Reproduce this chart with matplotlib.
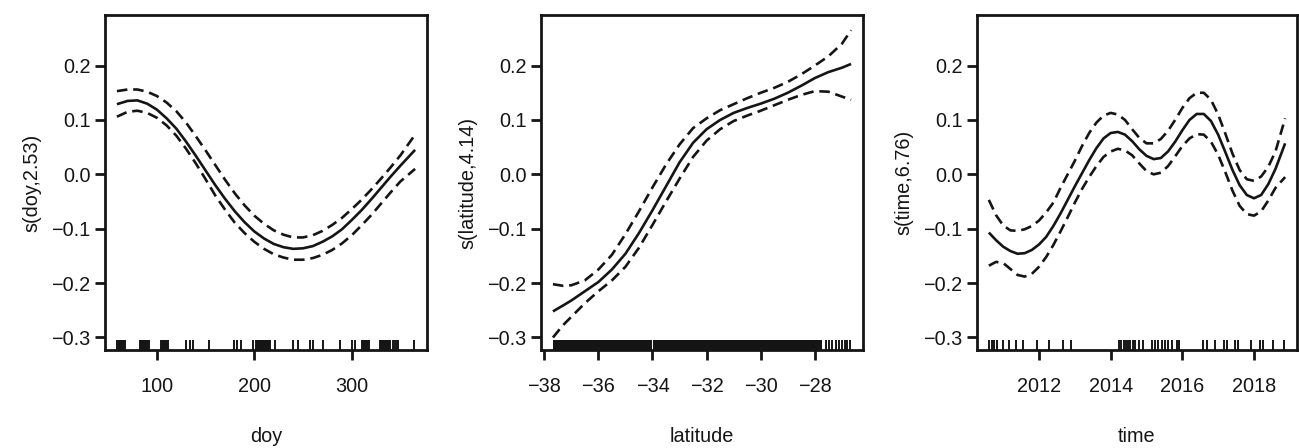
import numpy as np
import matplotlib
matplotlib.use("Agg")
import matplotlib.pyplot as plt
import matplotlib.transforms as mtransforms

plt.rcParams['font.family'] = ['Liberation Sans', 'DejaVu Sans']

INK = '#151515'

# ---------------- data: doy ----------------
doy_x = [59, 70, 80, 90, 100, 110, 120, 130, 140, 150, 160, 170, 180, 190, 200, 210, 220,
         230, 240, 250, 260, 270, 280, 290, 300, 310, 320, 330, 340, 350, 365]
doy_fit = [0.129, 0.135, 0.136, 0.130, 0.119, 0.103, 0.084, 0.060, 0.034, 0.007, -0.020,
           -0.045, -0.068, -0.088, -0.105, -0.118, -0.128, -0.134, -0.137, -0.136, -0.132,
           -0.124, -0.114, -0.101, -0.084, -0.066, -0.046, -0.025, -0.004, 0.016, 0.045]
doy_upper = [0.153, 0.156, 0.156, 0.152, 0.144, 0.132, 0.116, 0.095, 0.070, 0.044, 0.017,
             -0.010, -0.035, -0.057, -0.076, -0.091, -0.103, -0.111, -0.116, -0.116, -0.112,
             -0.104, -0.093, -0.080, -0.064, -0.047, -0.028, -0.008, 0.013, 0.035, 0.073]
doy_lower = [0.106, 0.115, 0.117, 0.113, 0.104, 0.090, 0.071, 0.047, 0.020, -0.009, -0.039,
             -0.065, -0.089, -0.108, -0.124, -0.137, -0.147, -0.153, -0.157, -0.157, -0.154,
             -0.148, -0.139, -0.127, -0.112, -0.094, -0.075, -0.054, -0.033, -0.013, 0.010]
doy_rug = [59, 60, 61, 62, 63, 64, 65, 66, 67, 83, 84, 85, 86, 87, 88, 89, 90, 91, 92,
           104, 105, 106, 107, 108, 109, 110, 111, 130, 134, 137, 154, 179, 182, 186,
           199, 202, 203, 204, 205, 206, 207, 208, 209, 210, 211, 212, 213, 214, 215, 216,
           221, 240, 245, 257, 260, 270, 288, 300, 303, 311, 312, 313, 314, 315, 316, 317, 318,
           329, 330, 331, 332, 333, 334, 335, 336, 337, 338, 339, 342, 344, 346, 347, 364]

# ---------------- data: latitude ----------------
lat_x = [-37.68, -37.3, -37.0, -36.5, -36.0, -35.5, -35.0, -34.5, -34.0, -33.5, -33.0,
         -32.5, -32.0, -31.5, -31.0, -30.5, -30.0, -29.5, -29.0, -28.5, -28.0, -27.5,
         -27.0, -26.66]
lat_fit = [-0.252, -0.241, -0.232, -0.215, -0.198, -0.175, -0.146, -0.108, -0.066, -0.022,
           0.022, 0.058, 0.083, 0.100, 0.113, 0.122, 0.130, 0.139, 0.150, 0.163, 0.177,
           0.188, 0.196, 0.203]
lat_upper = [-0.202, -0.205, -0.204, -0.195, -0.175, -0.148, -0.110, -0.068, -0.024, 0.018,
             0.055, 0.085, 0.103, 0.118, 0.129, 0.140, 0.150, 0.159, 0.170, 0.184, 0.200,
             0.217, 0.240, 0.265]
lat_lower = [-0.300, -0.277, -0.262, -0.237, -0.215, -0.195, -0.170, -0.135, -0.093, -0.050,
             -0.008, 0.032, 0.062, 0.083, 0.098, 0.108, 0.117, 0.127, 0.137, 0.146, 0.153,
             0.152, 0.143, 0.137]
lat_rug_dense = [(-37.68, -34.03), (-33.97, -27.72)]
lat_rug_sparse = [-27.59, -27.49, -27.37, -27.22, -27.12, -27.0, -26.9, -26.8, -26.7]

# ---------------- data: time ----------------
time_x = [2010.6, 2010.8, 2011.0, 2011.2, 2011.4, 2011.6, 2011.8, 2012.0, 2012.2, 2012.4,
          2012.6, 2012.8, 2013.0, 2013.2, 2013.4, 2013.6, 2013.8, 2014.0, 2014.2, 2014.4,
          2014.6, 2014.8, 2015.0, 2015.2, 2015.4, 2015.6, 2015.8, 2016.0, 2016.2, 2016.4,
          2016.6, 2016.8, 2017.0, 2017.2, 2017.4, 2017.6, 2017.8, 2018.0, 2018.2, 2018.4,
          2018.6, 2018.87]
time_fit = [-0.107, -0.121, -0.133, -0.141, -0.146, -0.145, -0.139, -0.129, -0.115, -0.095,
            -0.072, -0.047, -0.022, 0.002, 0.026, 0.048, 0.066, 0.076, 0.078, 0.073,
            0.061, 0.046, 0.034, 0.028, 0.030, 0.042, 0.060, 0.081, 0.100, 0.111,
            0.111, 0.098, 0.073, 0.041, 0.008, -0.020, -0.038, -0.044, -0.038, -0.018,
            0.010, 0.057]
time_upper = [-0.047, -0.075, -0.094, -0.103, -0.104, -0.101, -0.095, -0.085, -0.070, -0.052,
              -0.025, 0.000, 0.025, 0.052, 0.076, 0.095, 0.108, 0.113, 0.110, 0.100,
              0.083, 0.067, 0.057, 0.057, 0.065, 0.080, 0.100, 0.122, 0.140, 0.150,
              0.150, 0.137, 0.110, 0.075, 0.038, 0.008, -0.009, -0.012, -0.004, 0.014,
              0.042, 0.103]
time_lower = [-0.168, -0.161, -0.163, -0.174, -0.185, -0.188, -0.183, -0.170, -0.152, -0.130,
              -0.105, -0.079, -0.052, -0.027, -0.005, 0.015, 0.032, 0.042, 0.047, 0.044,
              0.035, 0.020, 0.006, 0.000, 0.003, 0.015, 0.033, 0.052, 0.066, 0.074,
              0.073, 0.060, 0.036, 0.004, -0.030, -0.058, -0.073, -0.076, -0.068, -0.048,
              -0.025, -0.005]
time_rug = [2010.61, 2010.69, 2010.75, 2010.84, 2011.00, 2011.17, 2011.35, 2011.56, 2011.94,
            2012.28, 2012.67, 2012.88, 2014.22, 2014.29, 2014.36, 2014.43, 2014.48, 2014.55,
            2014.61, 2014.69, 2014.80, 2014.89, 2015.15, 2015.24, 2015.31, 2015.43, 2015.52,
            2015.61, 2015.72, 2015.84, 2015.91, 2016.58, 2016.70, 2016.91, 2017.17, 2017.26,
            2017.46, 2017.56, 2017.93, 2018.16, 2018.25, 2018.53, 2018.85]

yticks = [-0.3, -0.2, -0.1, 0.0, 0.1, 0.2]
ytick_labels = ['\u22120.3', '\u22120.2', '\u22120.1', '0.0', '0.1', '0.2']

panels = [
    dict(x=doy_x, fit=doy_fit, up=doy_upper, lo=doy_lower, rug=doy_rug, dense=[],
         xticks=[100, 200, 300], xticklabels=['100', '200', '300'],
         xlabel='doy', ylabel='s(doy,2.53)', left=105, width=322),
    dict(x=lat_x, fit=lat_fit, up=lat_upper, lo=lat_lower, rug=lat_rug_sparse, dense=lat_rug_dense,
         xticks=[-38, -36, -34, -32, -30, -28],
         xticklabels=['\u221238', '\u221236', '\u221234', '\u221232', '\u221230', '\u221228'],
         xlabel='latitude', ylabel='s(latitude,4.14)', left=541, width=322),
    dict(x=time_x, fit=time_fit, up=time_upper, lo=time_lower, rug=time_rug, dense=[],
         xticks=[2012, 2014, 2016, 2018], xticklabels=['2012', '2014', '2016', '2018'],
         xlabel='time', ylabel='s(time,6.76)', left=977, width=320),
]

W, H = 1299, 448
fig = plt.figure(figsize=(W / 100, H / 100), dpi=100)
fig.patch.set_facecolor('white')

ax_b = 1 - 350 / H
ax_h = 335 / H
FS = 14.3

for p in panels:
    ax = fig.add_axes([p['left'] / W, ax_b, p['width'] / W, ax_h])
    xmin, xmax = min(p['x']), max(p['x'])
    pad = 0.04 * (xmax - xmin)
    ax.set_xlim(xmin - pad, xmax + pad)
    ax.set_ylim(-0.323, 0.293)

    ax.plot(p['x'], p['fit'], color=INK, lw=1.9, solid_capstyle='butt', solid_joinstyle='round')
    for key in ('up', 'lo'):
        ax.plot(p['x'], p[key], color=INK, lw=1.9, linestyle=(0, (4, 2.2)),
                dash_capstyle='butt', dash_joinstyle='round')

    trans = mtransforms.blended_transform_factory(ax.transData, ax.transAxes)
    ax.vlines(p['rug'], 0, 0.03, transform=trans, color=INK, lw=1.4)
    for (a, b) in p['dense']:
        ax.axvspan(a, b, ymin=0, ymax=0.03, color=INK, lw=0)

    ax.set_yticks(yticks)
    ax.set_yticklabels(ytick_labels)
    ax.set_xticks(p['xticks'])
    ax.set_xticklabels(p['xticklabels'])
    ax.tick_params(axis='y', direction='out', length=7.5, width=2.0, pad=3,
                   labelsize=FS, colors=INK)
    ax.tick_params(axis='x', direction='out', length=7.5, width=2.0, pad=12,
                   labelsize=FS, colors=INK)
    for s in ax.spines.values():
        s.set_linewidth(2.0)
        s.set_color(INK)
    ax.set_xlabel(p['xlabel'], fontsize=FS, color=INK, labelpad=22)
    ax.set_ylabel(p['ylabel'], fontsize=FS, color=INK, labelpad=7)

fig.savefig('out.png', dpi=100, facecolor='white')
